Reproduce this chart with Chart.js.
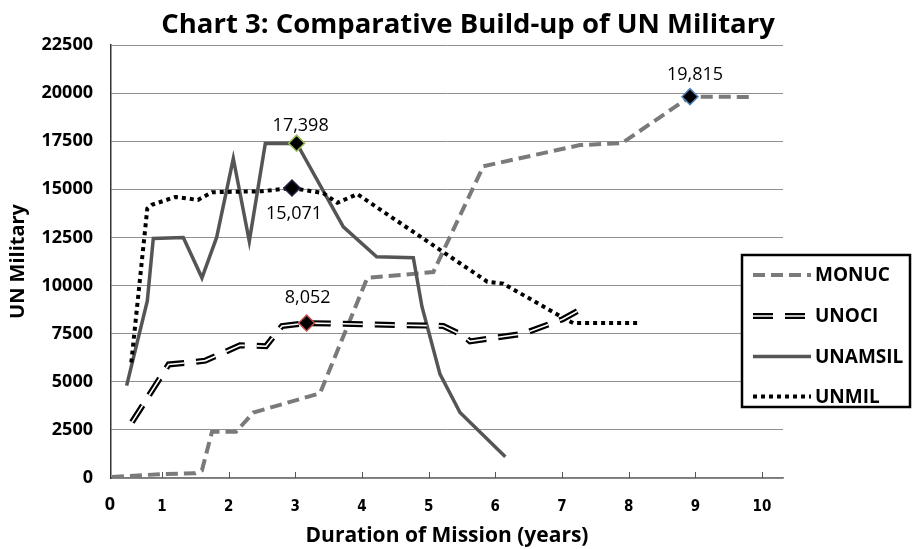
<!DOCTYPE html>
<html>
<head>
<meta charset="utf-8">
<script src="https://cdn.jsdelivr.net/npm/chart.js@4.4.1/dist/chart.umd.min.js"></script>
<style>
  html, body { margin: 0; padding: 0; background: #fff; }
  #wrap { width: 913px; height: 549px; }
</style>
</head>
<body>
<div id="wrap"><canvas id="chart" width="913" height="549"></canvas></div>
<script>
/* ==================== DATA ==================== */

const chartTitle = 'Chart 3: Comparative Build-up of UN Military';
const xTitle = 'Duration of Mission (years)';
const yTitle = 'UN Military';

const xTicks = [1, 2, 3, 4, 5, 6, 7, 8, 9, 10];
const yTicks = [0, 2500, 5000, 7500, 10000, 12500, 15000, 17500, 20000, 22500];

const seriesNames = ['MONUC', 'UNOCI', 'UNAMSIL', 'UNMIL'];

const monucYears  = [0.25, 0.97, 1.50, 1.60, 1.75, 2.11, 2.37, 3.37, 4.08, 5.07, 5.82, 7.27, 7.90, 8.92, 9.87];
const monucTroops = [50, 200, 250, 400, 2400, 2400, 3400, 4400, 10400, 10700, 16200, 17300, 17400, 19815, 19800];

const unociYears  = [0.55, 1.10, 1.42, 1.65, 1.95, 2.17, 2.56, 2.80, 3.17, 5.22, 5.52, 5.62, 6.42, 7.01, 7.30];
const unociTroops = [2900, 5900, 6000, 6100, 6550, 6900, 6850, 7900, 8052, 7900, 7400, 7100, 7500, 8250, 8800];

const unamsilYears  = [0.47, 0.78, 0.87, 1.32, 1.60, 1.82, 2.07, 2.31, 2.55, 3.02, 3.72, 4.22, 4.77, 4.90, 5.17, 5.47, 6.15];
const unamsilTroops = [4800, 9200, 12450, 12500, 10400, 12500, 16600, 12300, 17380, 17398, 13050, 11500, 11450, 8900, 5400, 3400, 1100];

const unmilYears  = [0.54, 0.78, 0.85, 1.20, 1.32, 1.54, 1.75, 2.50, 2.95, 3.42, 3.63, 3.93, 5.88, 6.12, 7.08, 7.17, 8.17];
const unmilTroops = [6000, 14000, 14200, 14600, 14550, 14450, 14850, 14900, 15071, 14800, 14300, 14750, 10200, 10100, 8200, 8050, 8050];

// highlighted peaks (value labels)
const peakValues = [19815, 17398, 15071, 8052];
const peakSeries = [
  [monucYears, monucTroops],
  [unamsilYears, unamsilTroops],
  [unmilYears, unmilTroops],
  [unociYears, unociTroops]
];

/* ==================== STYLES ==================== */

const FONT = '"Open Sans", "DejaVu Sans", sans-serif';

const styles = {
  MONUC:   { color: '#7a7a7a', width: 4,   dash: [12, 6] },
  UNOCI:   { color: '#000000', width: 6,   dash: [20, 12], core: '#ffffff', coreWidth: 1.6 },
  UNAMSIL: { color: '#555555', width: 3.5, dash: [] },
  UNMIL:   { color: '#000000', width: 4,   dash: [4, 4] }
};

const peakBorders = ['#4f81bd', '#9bbb59', '#1f1f3f', '#c0504d'];
const peakLabelOffsets = [[5, -22], [4, -17], [2, 26], [1, -25]];

function toPoints(xs, ys) {
  return xs.map((x, i) => ({ x: x, y: ys[i] }));
}

const peakPoints = peakSeries.map((s, i) => {
  const idx = s[1].indexOf(peakValues[i]);
  return { x: s[0][idx], y: s[1][idx] };
});

/* ==================== DECOR PLUGIN ==================== */

function drawSample(ctx, st, x1, x2, y) {
  ctx.save();
  ctx.lineCap = 'butt';
  ctx.setLineDash(st.dash);
  ctx.strokeStyle = st.color;
  ctx.lineWidth = st.width;
  ctx.beginPath();
  ctx.moveTo(x1, y);
  ctx.lineTo(x2, y);
  ctx.stroke();
  if (st.core) {
    ctx.strokeStyle = st.core;
    ctx.lineWidth = st.coreWidth;
    ctx.stroke();
  }
  ctx.restore();
}

const decorPlugin = {
  id: 'decor',
  afterDraw(chart) {
    const ctx = chart.ctx;
    const area = chart.chartArea;
    const xs = chart.scales.x;
    ctx.save();

    // title
    ctx.fillStyle = '#000';
    ctx.font = 'bold 27.5px ' + FONT;
    ctx.textAlign = 'center';
    ctx.textBaseline = 'middle';
    ctx.fillText(chartTitle, 468, 25);

    // inward tick marks on the x axis
    ctx.strokeStyle = '#555';
    ctx.lineWidth = 1;
    xTicks.forEach(v => {
      const px = Math.round(xs.getPixelForValue(v)) + 0.5;
      ctx.beginPath();
      ctx.moveTo(px, area.bottom);
      ctx.lineTo(px, area.bottom - 6);
      ctx.stroke();
    });

    // origin label of the x axis
    ctx.font = 'bold 18px ' + FONT;
    ctx.fillText('0', area.left - 1, 505);

    // peak value labels
    const meta = chart.getDatasetMeta(0);
    ctx.font = '18px ' + FONT;
    meta.data.forEach((pt, i) => {
      const off = peakLabelOffsets[i];
      ctx.fillText(peakValues[i].toLocaleString('en-US'), pt.x + off[0], pt.y + off[1]);
    });

    // legend box
    const bx = 742, by = 255, bw = 168, bh = 152;
    ctx.fillStyle = '#fff';
    ctx.fillRect(bx, by, bw, bh);
    ctx.strokeStyle = '#000';
    ctx.lineWidth = 2.5;
    ctx.strokeRect(bx, by, bw, bh);

    const rowY = [275, 316, 356.5, 396.5];
    ctx.font = 'bold 19px ' + FONT;
    ctx.textAlign = 'left';
    ctx.fillStyle = '#000';
    seriesNames.forEach((name, i) => {
      drawSample(ctx, styles[name], 753, 811, rowY[i]);
      ctx.fillText(name, 815, rowY[i] + 1);
    });

    ctx.restore();
  }
};

/* ==================== CHART ==================== */

function lineDataset(label, xs, ys, st, extra) {
  return Object.assign({
    label: label,
    data: toPoints(xs, ys),
    borderColor: st.color,
    borderWidth: st.width,
    borderDash: st.dash,
    borderCapStyle: 'butt',
    borderJoinStyle: 'miter',
    pointRadius: 0,
    pointHoverRadius: 0,
    tension: 0,
    fill: false
  }, extra || {});
}

const ctx = document.getElementById('chart').getContext('2d');
const chart = new Chart(ctx, {
  type: 'line',
  data: {
    datasets: [
      {
        label: 'peaks',
        data: peakPoints,
        showLine: false,
        pointStyle: 'rectRot',
        pointRadius: 8,
        pointBackgroundColor: '#000',
        pointBorderColor: peakBorders,
        pointBorderWidth: 1.5
      },
      lineDataset('UNOCI core', unociYears, unociTroops,
        { color: styles.UNOCI.core, width: styles.UNOCI.coreWidth, dash: styles.UNOCI.dash }),
      lineDataset('UNOCI', unociYears, unociTroops, styles.UNOCI),
      lineDataset('UNMIL', unmilYears, unmilTroops, styles.UNMIL),
      lineDataset('UNAMSIL', unamsilYears, unamsilTroops, styles.UNAMSIL),
      lineDataset('MONUC', monucYears, monucTroops, styles.MONUC)
    ]
  },
  options: {
    responsive: false,
    animation: false,
    devicePixelRatio: 1,
    layout: { padding: { top: 45, right: 130, bottom: 0, left: 0 } },
    plugins: {
      legend: { display: false },
      title: { display: false },
      tooltip: { enabled: false }
    },
    scales: {
      x: {
        type: 'linear',
        min: 0.2355,
        max: 10.315,
        afterBuildTicks: s => { s.ticks = xTicks.map(v => ({ value: v })); },
        afterFit: s => { s.height = 71; },
        grid: { display: false },
        border: { display: true, color: '#7a7a7a', width: 1.5 },
        ticks: {
          autoSkip: false,
          maxRotation: 0,
          padding: 12,
          color: '#000',
          font: { family: '"Liberation Sans Narrow", "DejaVu Sans Condensed", sans-serif', size: 15, weight: 'bold' },
          callback: v => String(v)
        },
        title: {
          display: true,
          text: xTitle,
          color: '#000',
          font: { family: FONT, size: 21, weight: 'bold' },
          padding: { top: 0, bottom: 0 }
        }
      },
      y: {
        type: 'linear',
        min: 0,
        max: 22500,
        afterBuildTicks: s => { s.ticks = yTicks.map(v => ({ value: v })); },
        afterFit: s => { s.width = 111; },
        grid: { color: '#909090', lineWidth: 1, drawTicks: false },
        border: { display: true, color: '#333', width: 1.5 },
        ticks: {
          padding: 18,
          color: '#000',
          font: { family: FONT, size: 18, weight: 'bold' },
          callback: v => String(v)
        },
        title: {
          display: true,
          text: yTitle,
          color: '#000',
          font: { family: FONT, size: 20, weight: 'bold' },
          padding: { top: 6, bottom: 0 }
        }
      }
    }
  },
  plugins: [decorPlugin]
});
</script>
</body>
</html>
